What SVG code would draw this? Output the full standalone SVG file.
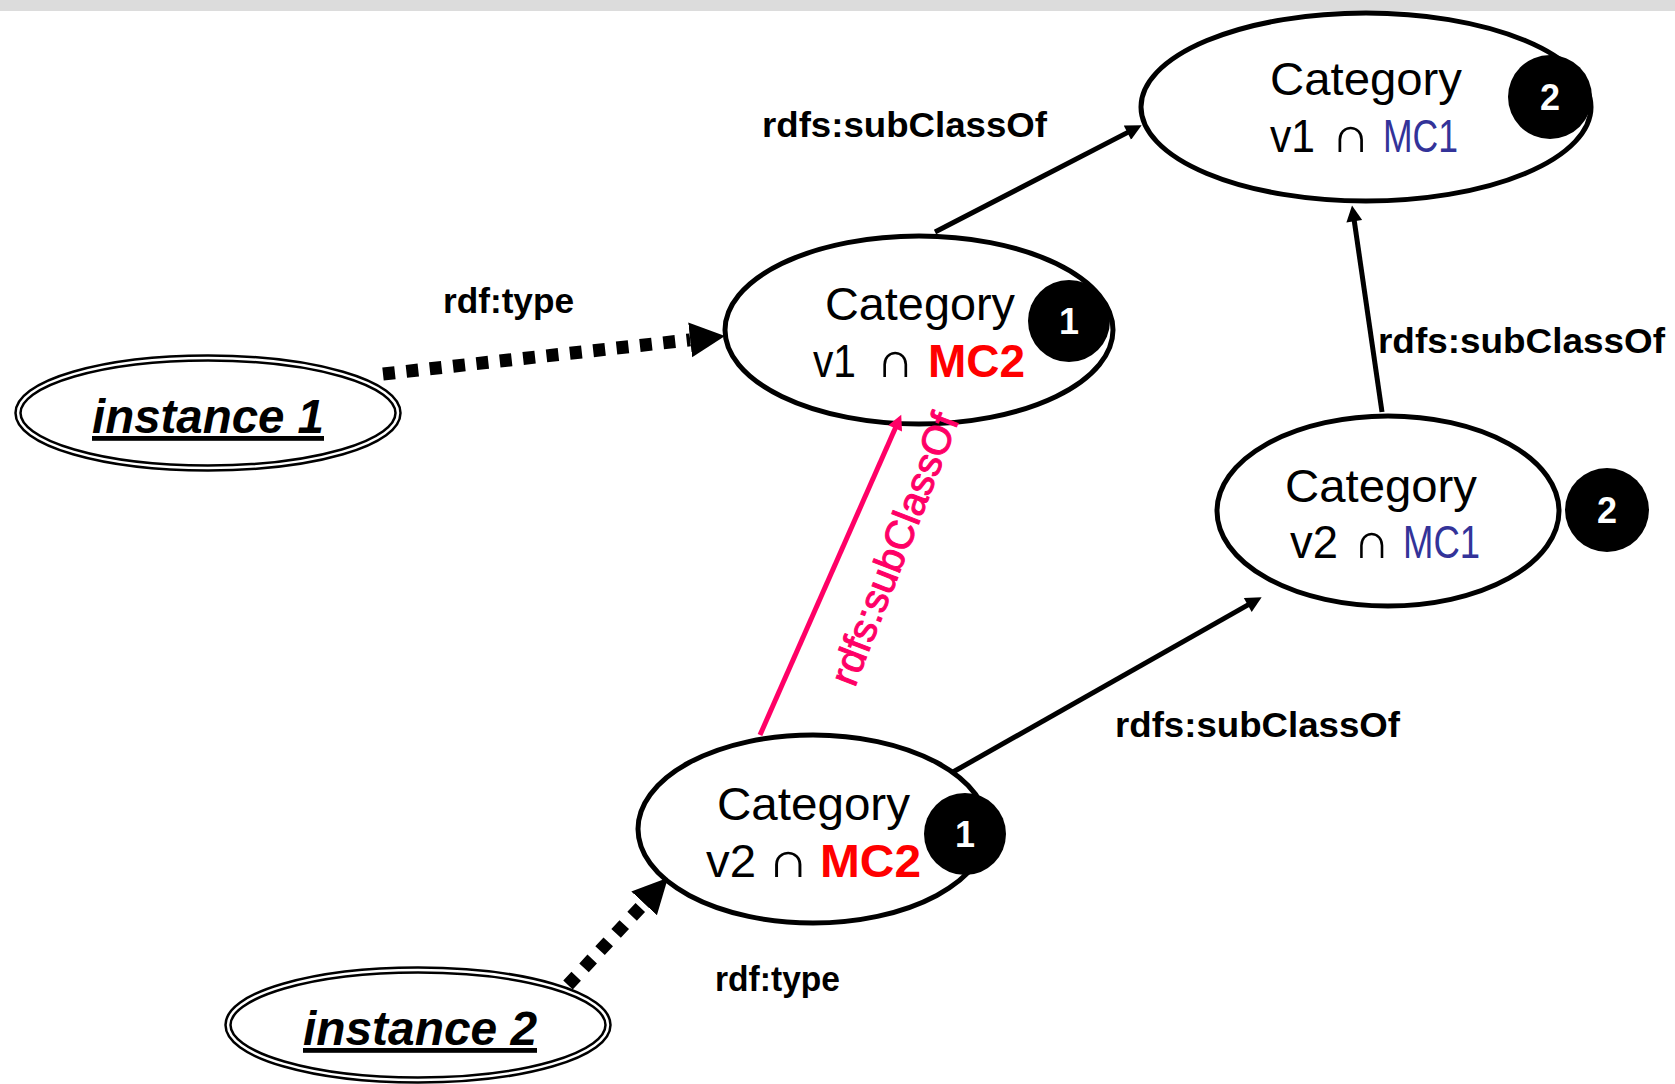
<svg xmlns="http://www.w3.org/2000/svg" width="1675" height="1084" viewBox="0 0 1675 1084">
  <style>
    text { font-family: "Liberation Sans", Arial, "DejaVu Sans", sans-serif; }
    .cat { fill: #fff; stroke: #000; stroke-width: 5; }
    .inst-outer { fill: #fff; stroke: #000; stroke-width: 7.5; }
    .inst-inner { fill: none; stroke: #fff; stroke-width: 2.5; }
    .name { font-size: 46px; fill: #000; }
    .cap { font-size: 50px; fill: #000; }
    .red { font-size: 46px; font-weight: bold; fill: #ff0000; }
    .blue { font-size: 47px; fill: #333399; }
    .inst { font-size: 48px; font-weight: bold; font-style: italic; text-decoration: underline; }
    .badge { fill: #000; }
    .num { font-size: 36px; font-weight: bold; fill: #fff; text-anchor: middle; }
    .lbl { font-size: 35px; font-weight: bold; fill: #000; }
    .edge { fill: none; stroke: #000; stroke-width: 5; }
    .dot { fill: none; stroke: #000; stroke-width: 13; stroke-dasharray: 12 11.5; }
    .pink { fill: none; stroke: #ff0066; stroke-width: 5; }
    .pink-lbl { font-size: 40px; fill: #ff0066; stroke: #ff0066; stroke-width: 1; }
  </style>
  <defs>
    <marker id="arr" viewBox="0 0 10 10" refX="4" refY="5" markerWidth="17" markerHeight="16" markerUnits="userSpaceOnUse" orient="auto">
      <path d="M0,0 L10,5 L0,10 z" fill="#000"/>
    </marker>
    <marker id="arrPink" viewBox="0 0 10 10" refX="4" refY="5" markerWidth="19" markerHeight="15" markerUnits="userSpaceOnUse" orient="auto">
      <path d="M0,0 L10,5 L0,10 z" fill="#ff0066"/>
    </marker>
    <marker id="arrBig" viewBox="0 0 10 10" refX="0" refY="5" markerWidth="35" markerHeight="44" markerUnits="userSpaceOnUse" orient="auto">
      <path d="M0,0 L10,5 L0,10 z" fill="#000"/>
    </marker>
  </defs>

  <!-- top band -->
  <rect x="0" y="0" width="1675" height="11" fill="#dcdcdc"/>

  <!-- Category v1 ∩ MC1 -->
  <g id="cat-v1-mc1">
    <ellipse class="cat" cx="1366" cy="107" rx="225" ry="94"/>
    <text class="name" x="1270" y="95" textLength="192" lengthAdjust="spacingAndGlyphs">Category</text>
    <text class="name" x="1270" y="152" textLength="45" lengthAdjust="spacingAndGlyphs">v1</text>
    <text class="cap" x="1331" y="152" textLength="39" lengthAdjust="spacingAndGlyphs">∩</text>
    <text class="blue" x="1383" y="152" textLength="75" lengthAdjust="spacingAndGlyphs">MC1</text>
    <circle class="badge" cx="1550" cy="97" r="42"/>
    <text class="num" x="1550" y="110">2</text>
  </g>

  <!-- Category v1 ∩ MC2 -->
  <g id="cat-v1-mc2">
    <ellipse class="cat" cx="919" cy="330" rx="194" ry="94"/>
    <text class="name" x="825" y="320" textLength="190" lengthAdjust="spacingAndGlyphs">Category</text>
    <text class="name" x="813" y="377" textLength="43" lengthAdjust="spacingAndGlyphs">v1</text>
    <text class="cap" x="876" y="377" textLength="38" lengthAdjust="spacingAndGlyphs">∩</text>
    <text class="red" x="928" y="377" textLength="97" lengthAdjust="spacingAndGlyphs">MC2</text>
    <circle class="badge" cx="1069" cy="321" r="41"/>
    <text class="num" x="1069" y="334">1</text>
  </g>

  <!-- Category v2 ∩ MC1 -->
  <g id="cat-v2-mc1">
    <ellipse class="cat" cx="1388" cy="511" rx="171" ry="95"/>
    <text class="name" x="1285" y="502" textLength="192" lengthAdjust="spacingAndGlyphs">Category</text>
    <text class="name" x="1290" y="558" textLength="48" lengthAdjust="spacingAndGlyphs">v2</text>
    <text class="cap" x="1353" y="558" textLength="37" lengthAdjust="spacingAndGlyphs">∩</text>
    <text class="blue" x="1403" y="558" textLength="77" lengthAdjust="spacingAndGlyphs">MC1</text>
    <circle class="badge" cx="1607" cy="510" r="42"/>
    <text class="num" x="1607" y="523">2</text>
  </g>

  <!-- Category v2 ∩ MC2 -->
  <g id="cat-v2-mc2">
    <ellipse class="cat" cx="813" cy="829" rx="175" ry="94"/>
    <text class="name" x="717" y="820" textLength="193" lengthAdjust="spacingAndGlyphs">Category</text>
    <text class="name" x="706" y="877" textLength="50" lengthAdjust="spacingAndGlyphs">v2</text>
    <text class="cap" x="767" y="877" textLength="42" lengthAdjust="spacingAndGlyphs">∩</text>
    <text class="red" x="820" y="877" textLength="101" lengthAdjust="spacingAndGlyphs">MC2</text>
    <circle class="badge" cx="965" cy="834" r="41"/>
    <text class="num" x="965" y="847">1</text>
  </g>

  <!-- instance 1 -->
  <g id="instance-1">
    <ellipse class="inst-outer" cx="208" cy="413" rx="190" ry="55"/>
    <ellipse class="inst-inner" cx="208" cy="413" rx="190" ry="55"/>
    <text class="inst" x="92" y="433" textLength="232" lengthAdjust="spacingAndGlyphs">instance 1</text>
  </g>

  <!-- instance 2 -->
  <g id="instance-2">
    <ellipse class="inst-outer" cx="418" cy="1025" rx="190" ry="55"/>
    <ellipse class="inst-inner" cx="418" cy="1025" rx="190" ry="55"/>
    <text class="inst" x="303" y="1045" textLength="234" lengthAdjust="spacingAndGlyphs">instance 2</text>
  </g>

  <!-- connectors, drawn over the node outlines -->
  <g id="connectors">
    <path class="edge" d="M935,232 L1133.1,129.6" marker-end="url(#arr)"/>
    <path class="edge" d="M1382,412 L1353.4,214.9" marker-end="url(#arr)"/>
    <path class="edge" d="M953,772 L1253.3,601.9" marker-end="url(#arr)"/>
    <path class="pink" d="M760,735 L897.6,422.9" marker-end="url(#arrPink)"/>
    <path class="dot" d="M383,374 L690.2,339.9" marker-end="url(#arrBig)"/>
    <path class="dot" d="M568,985 L644.1,903.4" marker-end="url(#arrBig)"/>

    <text class="lbl" x="762" y="137" textLength="285" lengthAdjust="spacingAndGlyphs">rdfs:subClassOf</text>
    <text class="lbl" x="1378" y="353" textLength="287" lengthAdjust="spacingAndGlyphs">rdfs:subClassOf</text>
    <text class="lbl" x="1115" y="737" textLength="285" lengthAdjust="spacingAndGlyphs">rdfs:subClassOf</text>
    <text class="lbl" x="443" y="313" textLength="131" lengthAdjust="spacingAndGlyphs">rdf:type</text>
    <text class="lbl" x="715" y="991" textLength="125" lengthAdjust="spacingAndGlyphs">rdf:type</text>
    <text class="pink-lbl" x="907" y="554" text-anchor="middle" textLength="288" lengthAdjust="spacingAndGlyphs" transform="rotate(-68.7 907 554)">rdfs:subClassOf</text>
  </g>
</svg>
